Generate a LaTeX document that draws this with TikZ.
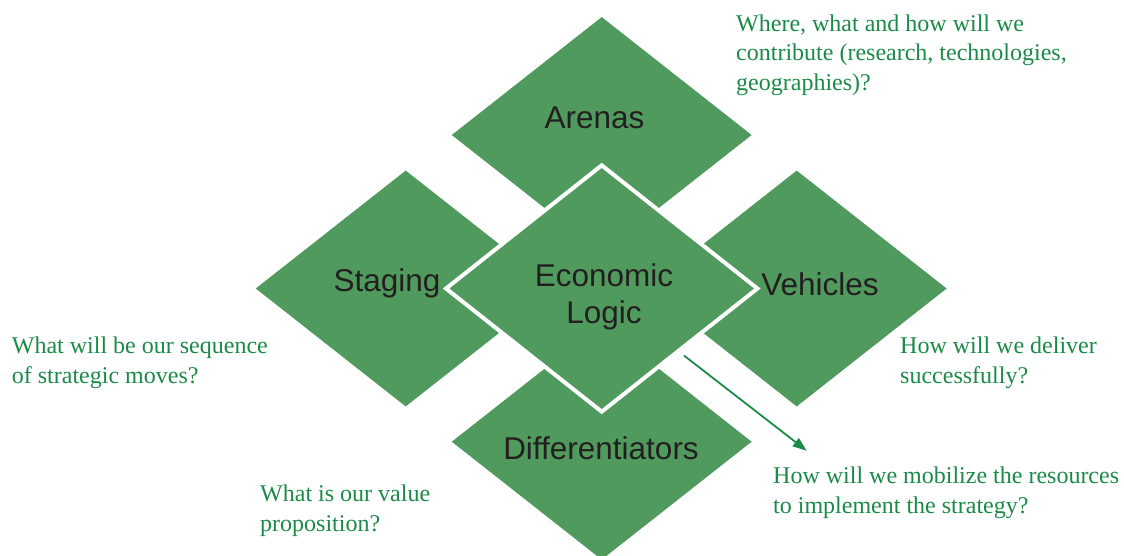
\documentclass[tikz,border=0pt]{standalone}
\usepackage{fontspec}
\setmainfont{Liberation Serif}
\newfontfamily\labelfont{Liberation Sans}
\usepackage{tikz}
\usetikzlibrary{shapes.geometric}
\usetikzlibrary{arrows.meta}
\usetikzlibrary{positioning}
\definecolor{leafgreen}{RGB}{80,154,94}
\definecolor{inkgreen}{RGB}{27,138,71}
\definecolor{labelink}{RGB}{35,31,32}

\begin{document}
\begin{tikzpicture}[
x=1pt,y=-1pt,
MyDiamonds/.style={diamond,fill=leafgreen,minimum width=300pt,minimum height=236pt,inner sep=0pt},
CoreDiamond/.style={diamond,fill=leafgreen,draw=white,line width=4pt,minimum width=313pt,minimum height=248pt,inner sep=0pt},
Labels/.style={font=\labelfont\fontsize{31.5}{37}\selectfont,text=labelink,inner sep=0pt,align=center},
Questions/.style={font=\fontsize{24}{29.5}\selectfont,text=inkgreen,inner sep=0pt,align=left,anchor=base west},
MyArrow/.style={draw=inkgreen,line width=1.8pt,-{Triangle[length=14pt,width=10pt]}}
]
\useasboundingbox (0,0) rectangle (1124,555);
\clip (0,0) rectangle (1124,555);

% centres of the five diamonds
\coordinate (Ca) at (601.7,135);
\coordinate (Cs) at (405.7,288.5);
\coordinate (Cl) at (601.7,288.5);
\coordinate (Cv) at (796.7,288.5);
\coordinate (Cd) at (601.7,441.7);

\node[MyDiamonds] (arenas) at (Ca) {};
\node[MyDiamonds] (staging) at (Cs) {};
\node[MyDiamonds] (vehicles) at (Cv) {};
\node[MyDiamonds] (diff) at (Cd) {};
\node[CoreDiamond] (logic) at (Cl) {};

% texts inside the diamonds (base = last line)
\node[Labels,anchor=base] (arenastxt) at (594.5,128) {Arenas};
\node[Labels,anchor=base] (stagingtxt) at (387,291.7) {Staging};
\node[Labels,anchor=base] (vehiclestxt) at (820,295) {Vehicles};
\node[Labels,anchor=base] (difftxt) at (601,459) {Differentiators};
\node[Labels,anchor=base] (logictxt) at (604,323) {Economic\\Logic};

% questions round the diamonds
\node[Questions] (qarenas) at (736,90) {Where, what and how will we\\contribute (research, technologies,\\geographies)?};
\node[Questions] (qstaging) at (11.7,383) {What will be our sequence\\of strategic moves?};
\node[Questions] (qvehicles) at (900,383) {How will we deliver\\successfully?};
\node[Questions] (qlogic) at (773,513) {How will we mobilize the resources\\to implement the strategy?};
\node[Questions] (qdiff) at (260,531) {What is our value\\proposition?};

\coordinate (mobtip) at (806.7,450.7);
\draw[MyArrow] ([shift={(3,4)}]logic.south east) -- (mobtip);

\end{tikzpicture}
\end{document}
